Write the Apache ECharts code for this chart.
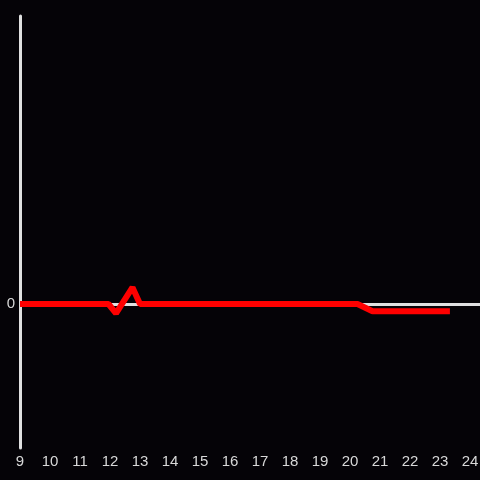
<!DOCTYPE html>
<html>
<head>
<meta charset="utf-8">
<script src="https://cdn.jsdelivr.net/npm/echarts@6/dist/echarts.min.js"></script>
<style>
  html, body { margin: 0; padding: 0; background: #050307; }
  #chart { width: 480px; height: 480px; }
</style>
</head>
<body>
<div id="chart"></div>
<script>
const hours = [9, 10, 11, 11.95, 12.2, 12.75, 13, 14, 15, 16, 17, 18, 19, 20, 20.25, 20.75, 21, 22, 23, 23.33];
const values = [0, 0, 0, 0, -0.065, 0.115, 0, 0, 0, 0, 0, 0, 0, 0, 0, -0.05, -0.05, -0.05, -0.05, -0.05];
const yLabels = [0];

const chart = echarts.init(document.getElementById("chart"));
chart.setOption({
  backgroundColor: "#050307",
  animation: false,
  grid: { left: 20, right: 0, top: 16, bottom: 32, outerBoundsMode: "none", containLabel: false },
  xAxis: {
    type: "value",
    min: 9,
    max: 24.333,
    interval: 1,
    axisLine: { show: false },
    axisTick: { show: false },
    splitLine: { show: false },
    axisLabel: {
      color: "#d8d8d8",
      fontSize: 15,
      fontFamily: "Liberation Sans",
      margin: 6,
      formatter: (v) => (Number.isInteger(v) ? String(v) : ""),
    },
  },
  yAxis: {
    type: "value",
    min: -1,
    max: 2,
    interval: 1,
    axisLine: { show: true, lineStyle: { color: "#e0e0e0", width: 3 } },
    axisTick: { show: false },
    splitLine: { show: false },
    axisLabel: {
      color: "#d8d8d8",
      fontSize: 15,
      fontFamily: "Liberation Sans",
      margin: 5,
      formatter: (v) => (yLabels.includes(v) ? String(v) : ""),
    },
  },
  series: [
    {
      // zero line, kept beneath the red series
      type: "line",
      data: [],
      z: 1,
      markLine: {
        silent: true,
        symbol: "none",
        label: { show: false },
        lineStyle: { color: "#e0e0e0", width: 3, type: "solid" },
        data: [{ yAxis: 0 }],
      },
    },
    {
      type: "line",
      data: hours.map((h, i) => [h, values[i]]),
      showSymbol: false,
      lineStyle: { color: "#ff0000", width: 6 },
      z: 5,
    },
  ],
});
</script>
</body>
</html>
